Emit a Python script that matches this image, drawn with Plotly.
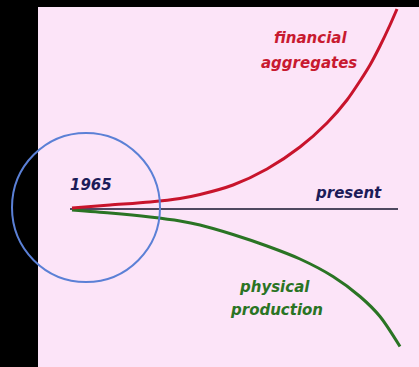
import plotly.graph_objects as go

# chart values (x = pixels from left, y = pixels from bottom)
fin_x = [72, 110, 150, 180, 200, 233, 267, 300, 327, 347, 360, 370, 380, 390, 397]
fin_y = [159, 162, 165, 168.5, 172.5, 182, 198, 220, 244, 267, 286, 302, 321, 342, 358]
phys_x = [72, 110, 150, 180, 200, 233, 267, 300, 333, 360, 380, 400]
phys_y = [157, 154, 150, 146, 142, 132.5, 121, 108, 90.5, 70.5, 50.5, 20.5]
now_x = [70, 398]
now_y = [158, 158]

fig = go.Figure()
fig.add_trace(go.Scatter(x=now_x, y=now_y, mode="lines",
                         line=dict(color="#15152e", width=1.6)))
fig.add_trace(go.Scatter(x=phys_x, y=phys_y, mode="lines", line_shape="spline",
                         line=dict(color="#2a7424", width=3, smoothing=0.8)))
fig.add_trace(go.Scatter(x=fin_x, y=fin_y, mode="lines", line_shape="spline",
                         line=dict(color="#c8142c", width=3, smoothing=0.8)))

# pink panel and the circle around 1965
fig.add_shape(type="rect", x0=38, x1=419, y0=0, y1=360, layer="below",
              fillcolor="#fce4f8", line_width=0)
fig.add_shape(type="circle", x0=12, x1=160, y0=85, y1=234,
              line=dict(color="#5b80d6", width=2))

def lbl(x, y, txt, col):
    fig.add_annotation(x=x, y=y, text=txt, showarrow=False,
                       font=dict(family="DejaVu Sans", size=15, color=col,
                                 weight="bold", style="italic"))

lbl(91, 182, "1965", "#1c1c58")
lbl(348, 174, "present", "#1c1c58")
lbl(310, 329, "financial", "#c81a30")
lbl(309, 304, "aggregates", "#c81a30")
lbl(274, 80, "physical", "#2a7424")
lbl(276, 57, "production", "#2a7424")

fig.update_layout(
    width=419, height=367,
    margin=dict(l=0, r=0, t=0, b=0),
    paper_bgcolor="black", plot_bgcolor="black",
    showlegend=False,
    xaxis=dict(range=[0, 419], visible=False, fixedrange=True),
    yaxis=dict(range=[0, 367], visible=False, fixedrange=True),
)
fig.write_html("out.html", config={"displayModeBar": False},
               post_script="document.body.style.margin='0';")
